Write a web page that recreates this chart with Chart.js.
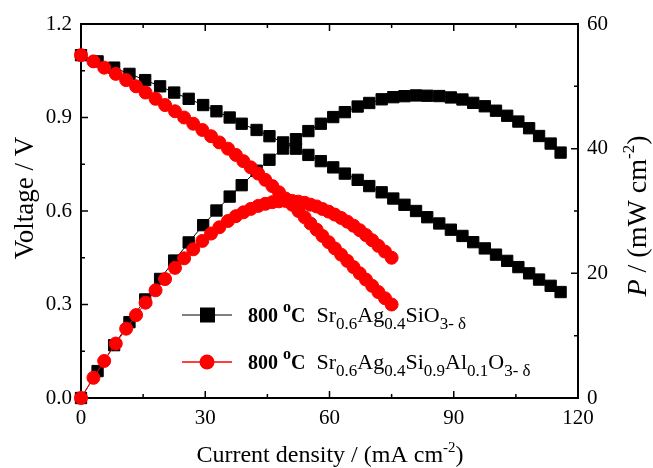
<!DOCTYPE html>
<html>
<head>
<meta charset="UTF-8">
<title>Voltage / power density</title>
<script src="https://cdn.jsdelivr.net/npm/chart.js@4.4.0/dist/chart.umd.min.js"></script>
<style>
  body { margin: 0; background: #fff; }
</style>
</head>
<body>
<canvas id="wykres" width="653" height="468"></canvas>
<script>
// Sr0.6Ag0.4SiO3-d (black squares)
var currentA = [0, 4.0, 8.0, 11.7, 15.5, 19.1, 22.5, 26.0, 29.5, 32.7, 35.9, 38.8, 42.4, 45.5, 48.8, 51.9, 54.9, 57.9, 60.9, 63.7,
                66.8, 69.6, 72.6, 75.4, 78.1, 80.9, 83.6, 86.5, 89.3, 92.1, 94.7, 97.5, 100.2, 102.9, 105.6, 108.2, 110.6, 113.4, 115.8];
var voltageA = [1.10, 1.08, 1.06, 1.04, 1.02, 1.00, 0.98, 0.96, 0.94, 0.92, 0.90, 0.88, 0.86, 0.84, 0.82, 0.80, 0.78, 0.76, 0.74, 0.72,
                0.70, 0.68, 0.66, 0.64, 0.62, 0.60, 0.58, 0.56, 0.54, 0.52, 0.50, 0.48, 0.46, 0.44, 0.42, 0.40, 0.38, 0.36, 0.34];
var powerA = [0, 4.32, 8.48, 12.17, 15.81, 19.10, 22.05, 24.96, 27.73, 30.08, 32.31, 34.14, 36.46, 38.22, 40.02, 41.52, 42.82, 44.00, 45.07, 45.86,
              46.76, 47.33, 47.92, 48.26, 48.42, 48.54, 48.49, 48.44, 48.22, 47.89, 47.35, 46.80, 46.09, 45.28, 44.35, 43.28, 42.03, 40.82, 39.37];

// Sr0.6Ag0.4Si0.9Al0.1O3-d (red circles)
var currentB = [0, 3.0, 5.6, 8.4, 10.9, 13.3, 15.6, 18.0, 20.3, 22.7, 24.9, 27.1, 29.3, 31.4, 33.4, 35.5, 37.4, 39.2, 41.0, 42.8, 44.5,
                46.2, 47.8, 49.4, 51.0, 52.5, 54.0, 55.4, 56.9, 58.3, 59.8, 61.3, 62.8, 64.3, 65.8, 67.3, 68.8, 70.3, 71.8, 73.4, 75.0];
var voltageB = [1.10, 1.08, 1.06, 1.04, 1.02, 1.00, 0.98, 0.96, 0.94, 0.92, 0.90, 0.88, 0.86, 0.84, 0.82, 0.80, 0.78, 0.76, 0.74, 0.72, 0.70,
                0.68, 0.66, 0.64, 0.62, 0.60, 0.58, 0.56, 0.54, 0.52, 0.50, 0.48, 0.46, 0.44, 0.42, 0.40, 0.38, 0.36, 0.34, 0.32, 0.30];
var powerB = [0, 3.24, 5.94, 8.74, 11.12, 13.30, 15.29, 17.28, 19.08, 20.88, 22.41, 23.85, 25.20, 26.38, 27.39, 28.40, 29.17, 29.79, 30.34, 30.82, 31.15,
              31.42, 31.55, 31.62, 31.62, 31.50, 31.32, 31.02, 30.73, 30.32, 29.90, 29.42, 28.89, 28.29, 27.64, 26.92, 26.14, 25.31, 24.41, 23.49, 22.50];

var xTicks = [0, 30, 60, 90, 120];
var vTicks = [0.0, 0.3, 0.6, 0.9, 1.2];
var pTicks = [0, 20, 40, 60];

var SERIF = '"Liberation Serif", "Times New Roman", serif';

function pts(xs, ys) {
    return xs.map(function (x, i) { return {x: x, y: ys[i]}; });
}

// text with sub/superscripts: parts = [text, font, dy]
function rich(ctx, parts, x, y, align) {
    var w = 0;
    parts.forEach(function (p) { ctx.font = p[1]; w += ctx.measureText(p[0]).width; });
    var cx = align === 'center' ? x - w / 2 : x;
    parts.forEach(function (p) {
        ctx.font = p[1];
        ctx.fillText(p[0], cx, y + (p[2] || 0));
        cx += ctx.measureText(p[0]).width;
    });
}

var frame = {
    id: 'frame',
    beforeDatasetsDraw: function (chart) {
        var ctx = chart.ctx, a = chart.chartArea;
        var sx = chart.scales.x, sv = chart.scales.v, sp = chart.scales.p;
        ctx.save();
        ctx.strokeStyle = '#000';
        ctx.lineWidth = 2;
        ctx.strokeRect(a.left, a.top, a.right - a.left, a.bottom - a.top);
        ctx.lineWidth = 1.5;
        ctx.beginPath();
        for (var t = 0; t <= 120; t += 15) {
            var px = sx.getPixelForValue(t), len = t % 30 === 0 ? 7 : 4;
            ctx.moveTo(px, a.bottom); ctx.lineTo(px, a.bottom - len);
            ctx.moveTo(px, a.top); ctx.lineTo(px, a.top + len);
        }
        for (var k = 0; k <= 8; k++) {
            var py = sv.getPixelForValue(k * 0.15), l2 = k % 2 === 0 ? 7 : 4;
            ctx.moveTo(a.left, py); ctx.lineTo(a.left + l2, py);
        }
        for (var m = 0; m <= 60; m += 10) {
            var pr = sp.getPixelForValue(m), l3 = m % 20 === 0 ? 7 : 4;
            ctx.moveTo(a.right, pr); ctx.lineTo(a.right - l3, pr);
        }
        ctx.stroke();
        ctx.restore();
    },
    afterDraw: function (chart) {
        var ctx = chart.ctx;
        ctx.save();
        ctx.fillStyle = '#000';
        ctx.textBaseline = 'alphabetic';

        // axis titles
        var tf = '24px ' + SERIF, sf = '15px ' + SERIF;
        rich(ctx, [['Current density / (mA cm', tf], ['-2', sf, -10], [')', tf]], 330, 462, 'center');

        ctx.save();
        ctx.translate(33, 198);
        ctx.rotate(-Math.PI / 2);
        rich(ctx, [['Voltage / V', '27px ' + SERIF]], 0, 0, 'center');
        ctx.restore();

        var rf = '28px ' + SERIF;
        ctx.save();
        ctx.translate(646, 216);
        ctx.rotate(-Math.PI / 2);
        rich(ctx, [['P', 'italic ' + rf], [' / (mW cm', rf], ['-2', '17px ' + SERIF, -12], [')', rf]], 0, 0, 'center');
        ctx.restore();

        // legend
        var bf = 'bold 20px ' + SERIF, nf = '22px ' + SERIF, sub = '17px ' + SERIF, sup = 'bold 16px ' + SERIF;
        var rows = [
            {y: 315, color: '#000', style: 'rect',
             text: [['800 ', bf], ['o', sup, -10], ['C', bf], ['  Sr', nf], ['0.6', sub, 7], ['Ag', nf], ['0.4', sub, 7],
                    ['SiO', nf], ['3- \u03b4', sub, 7]]},
            {y: 362, color: '#ff0000', style: 'circle',
             text: [['800 ', bf], ['o', sup, -10], ['C', bf], ['  Sr', nf], ['0.6', sub, 7], ['Ag', nf], ['0.4', sub, 7],
                    ['Si', nf], ['0.9', sub, 7], ['Al', nf], ['0.1', sub, 7], ['O', nf], ['3- \u03b4', sub, 7]]}
        ];
        rows.forEach(function (r) {
            ctx.strokeStyle = r.color === '#000' ? '#555' : r.color;
            ctx.lineWidth = 1.5;
            ctx.beginPath();
            ctx.moveTo(182, r.y); ctx.lineTo(232, r.y);
            ctx.stroke();
            ctx.fillStyle = r.color;
            if (r.style === 'rect') {
                ctx.fillRect(200, r.y - 7.5, 15, 15);
            } else {
                ctx.beginPath(); ctx.arc(207, r.y, 7.5, 0, Math.PI * 2); ctx.fill();
            }
            ctx.fillStyle = '#000';
            rich(ctx, r.text, 248, r.y + 7);
        });
        ctx.restore();
    }
};

var sqStyle = {pointStyle: 'rect', pointRadius: 8, pointHoverRadius: 8, backgroundColor: '#000', borderColor: '#000',
               pointBorderColor: '#000', borderWidth: 1, showLine: true, clip: false, order: 2};
var ciStyle = {pointStyle: 'circle', pointRadius: 6.5, pointHoverRadius: 6.5, backgroundColor: '#ff0000', borderColor: '#ff0000',
               pointBorderColor: '#ff0000', borderWidth: 1, showLine: true, clip: false, order: 1};

var tickFont = {family: SERIF, size: 21};

new Chart(document.getElementById('wykres'), {
    type: 'scatter',
    data: {
        datasets: [
            Object.assign({label: 'V A', data: pts(currentA, voltageA), yAxisID: 'v'}, sqStyle),
            Object.assign({label: 'P A', data: pts(currentA, powerA), yAxisID: 'p'}, sqStyle),
            Object.assign({label: 'V B', data: pts(currentB, voltageB), yAxisID: 'v'}, ciStyle),
            Object.assign({label: 'P B', data: pts(currentB, powerB), yAxisID: 'p'}, ciStyle)
        ]
    },
    options: {
        responsive: false,
        animation: false,
        devicePixelRatio: 1,
        layout: {padding: {top: 24, left: 0, right: 0, bottom: 0}},
        plugins: {legend: {display: false}, tooltip: {enabled: false}},
        scales: {
            x: {
                type: 'linear', position: 'bottom', min: 0, max: 120,
                afterBuildTicks: function (s) { s.ticks = xTicks.map(function (v) { return {value: v}; }); },
                ticks: {font: tickFont, color: '#000', padding: 8, maxRotation: 0},
                grid: {display: false, drawTicks: false}, border: {display: false},
                afterFit: function (s) { s.height = 70; }
            },
            v: {
                type: 'linear', position: 'left', min: 0, max: 1.2,
                afterBuildTicks: function (s) { s.ticks = vTicks.map(function (v) { return {value: v}; }); },
                ticks: {font: tickFont, color: '#000', padding: 9, callback: function (v) { return Number(v).toFixed(1); }},
                grid: {display: false, drawTicks: false}, border: {display: false},
                afterFit: function (s) { s.width = 81; }
            },
            p: {
                type: 'linear', position: 'right', min: 0, max: 60,
                afterBuildTicks: function (s) { s.ticks = pTicks.map(function (v) { return {value: v}; }); },
                ticks: {font: tickFont, color: '#000', padding: 9},
                grid: {display: false, drawTicks: false}, border: {display: false},
                afterFit: function (s) { s.width = 75; }
            }
        }
    },
    plugins: [frame]
});
</script>
</body>
</html>
